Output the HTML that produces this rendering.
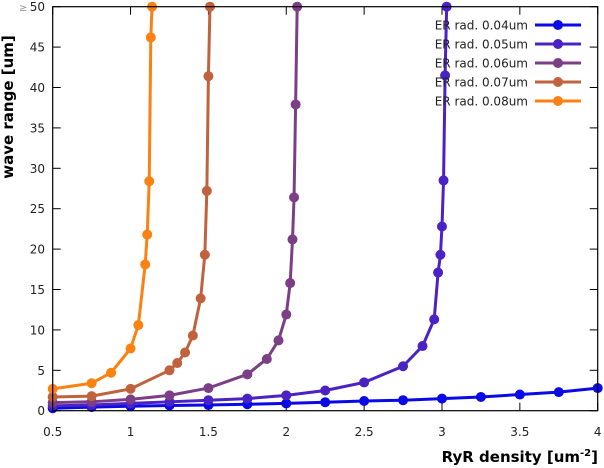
<!DOCTYPE html>
<html><head><meta charset="utf-8"><style>
body{margin:0;background:#fff;width:604px;height:468px;overflow:hidden}
svg{display:block;font-family:"DejaVu Sans","Liberation Sans",sans-serif}
</style></head><body>
<svg id="chart" width="604" height="468" viewBox="0 0 604 468"></svg>
<script>
const xTicks=[0.5,1,1.5,2,2.5,3,3.5,4];
const xTickLabels=["0.5","1","1.5","2","2.5","3","3.5","4"];
const yTicks=[0,5,10,15,20,25,30,35,40,45,50];
const seriesNames=["ER rad. 0.04um","ER rad. 0.05um","ER rad. 0.06um","ER rad. 0.07um","ER rad. 0.08um"];
const seriesColors=["#0a0ae6","#4b22c4","#7c3f86","#c0623e","#fb8113"];
const x004=[0.5,0.75,1,1.25,1.5,1.75,2,2.25,2.5,2.75,3,3.25,3.5,3.75,4];
const y004=[0.3,0.45,0.55,0.65,0.7,0.8,0.9,1.05,1.2,1.3,1.5,1.7,2.0,2.3,2.8];
const x005=[0.5,0.75,1,1.25,1.5,1.75,2,2.25,2.5,2.75,2.875,2.95,2.975,2.99,3.0,3.01,3.02,3.03];
const y005=[0.6,0.7,0.9,1.1,1.3,1.5,1.9,2.5,3.5,5.5,8.0,11.3,17.1,19.3,22.8,28.5,41.5,50];
const x006=[0.5,0.75,1,1.25,1.5,1.75,1.875,1.95,2.0,2.025,2.04,2.05,2.06,2.07];
const y006=[1.0,1.1,1.4,1.9,2.8,4.5,6.4,8.7,11.9,15.8,21.2,26.4,37.9,50];
const x007=[0.5,0.75,1,1.25,1.3,1.35,1.4,1.45,1.477,1.49,1.5,1.51];
const y007=[1.7,1.8,2.7,5.0,5.9,7.2,9.3,13.9,19.3,27.2,41.4,50];
const x008=[0.5,0.75,0.875,1.0,1.05,1.094,1.107,1.12,1.13,1.138];
const y008=[2.7,3.4,4.7,7.7,10.6,18.1,21.8,28.4,46.2,50];
const XS=[x004,x005,x006,x007,x008], YS=[y004,y005,y006,y007,y008];

const L=52.7,R=597.7,T=6.7,B=410.7;
const sx=v=>L+(v-0.5)/3.5*(R-L);
const sy=v=>B-v/50*(B-T);
const svg=document.getElementById('chart');
const NS='http://www.w3.org/2000/svg';
function mk(tag,attrs,parent){const e=document.createElementNS(NS,tag);for(const k in attrs)e.setAttribute(k,attrs[k]);(parent||svg).appendChild(e);return e;}

// ticks
xTicks.forEach((v,i)=>{
  const t=mk('line',{x1:sx(v),x2:sx(v),y1:B,y2:B-8,stroke:'#000','stroke-width':1});
  
  
  const t2=mk('line',{x1:sx(v),x2:sx(v),y1:T,y2:T+8,stroke:'#000','stroke-width':1});
  
  
  const lb=mk('text',{x:sx(v),y:436,'font-size':12,'text-anchor':'middle',fill:'#222'});
  lb.textContent=xTickLabels[i];
  
  
});
yTicks.forEach(v=>{
  const t=mk('line',{x1:L,x2:L+8,y1:sy(v),y2:sy(v),stroke:'#000','stroke-width':1});
  
  
  const t2=mk('line',{x1:R,x2:R-8,y1:sy(v),y2:sy(v),stroke:'#000','stroke-width':1});
  
  
  const lb=mk('text',{x:45,y:sy(v)+4.5,'font-size':12,'text-anchor':'end',fill:'#222'});
  lb.textContent=String(v);
  
  
});
const ge=mk('text',{x:19,y:11,'font-size':10,fill:'#999'});ge.textContent='≥';



// series
XS.forEach((xs,si)=>{
  const g=mk('g',{});
  
  
  const pts=xs.map((x,i)=>sx(x)+','+sy(YS[si][i])).join(' ');
  mk('polyline',{points:pts,fill:'none',stroke:seriesColors[si],'stroke-width':3,'stroke-linejoin':'round'},g);
  xs.forEach((x,i)=>{
    const c=mk('circle',{cx:sx(x),cy:sy(YS[si][i]),r:5,fill:seriesColors[si]},g);
    
    
  });
});

// frame
const fr=mk('rect',{x:L,y:T,width:R-L,height:B-T,fill:'none',stroke:'#000','stroke-width':1.2});



// legend
seriesNames.forEach((n,i)=>{
  const y=25+i*19;
  const g=mk('g',{});
  
  
  const tx=mk('text',{x:528,y:y+4.5,'font-size':12,'text-anchor':'end',fill:'#222'},g);
  tx.textContent=n;
  mk('line',{x1:535,x2:581,y1:y,y2:y,stroke:seriesColors[i],'stroke-width':3},g);
  mk('circle',{cx:558,cy:y,r:5,fill:seriesColors[i]},g);
});

const xt=mk('text',{x:598,y:462,'font-size':15,'font-weight':'bold','text-anchor':'end',fill:'#000'});
xt.innerHTML='RyR density [um<tspan dy="-6" font-size="10">-2</tspan><tspan dy="6">]</tspan>';


const yt=mk('text',{x:0,y:0,'font-size':15,'font-weight':'bold','text-anchor':'middle',fill:'#000',transform:'translate(13,107) rotate(-90)'});
yt.textContent='wave range [um]';


</script>
</body></html>
